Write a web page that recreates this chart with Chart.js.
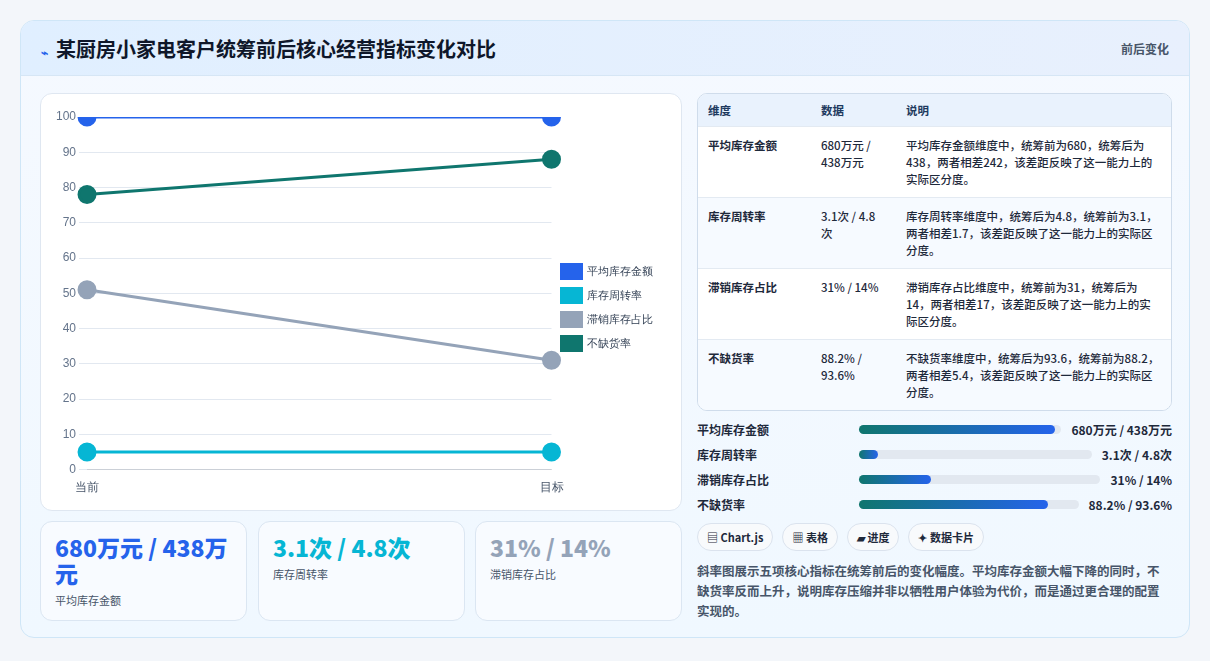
<!DOCTYPE html>
<html><head><meta charset="utf-8">
<script src="https://cdn.jsdelivr.net/npm/chart.js@4/dist/chart.umd.min.js"></script>
<style>
*{box-sizing:border-box;margin:0;padding:0}
body{width:1210px;height:661px;background:#f3f6fa;font-family:"Noto Sans CJK SC","Noto Sans",sans-serif;color:#1e293b;position:relative;overflow:hidden}
.card{position:absolute;left:20px;top:20px;width:1170px;height:618px;background:linear-gradient(#f5f9ff,#f0f8ff);border:1px solid #cfe6f7;border-radius:14px;overflow:hidden}
.head{height:55px;background:linear-gradient(90deg,#e0efff,#e8f0fd);border-bottom:1px solid #d6e6f5;display:flex;align-items:center;padding:0 20px;justify-content:space-between}
.head h1{font-size:20px;font-weight:700;color:#0f172a}
.head h1 span{color:#2563eb;font-size:12px;margin-right:8px}
.head .r{font-size:12px;color:#475569;font-weight:700}
.chartbox{position:absolute;left:19px;top:72px;width:642px;height:418px;background:#fff;border:1px solid #dfe7f1;border-radius:12px}
.stat{position:absolute;top:500px;width:207px;height:100px;background:#f8fbff;border:1px solid #dbe6f2;border-radius:12px;padding:12px 14px}
.stat b{display:block;font-size:23px;line-height:26px;font-weight:800}
.stat i{font-style:normal;font-size:11px;color:#475569;display:block;margin-top:6px}
table{position:absolute;left:676px;top:72px;width:475px;border-collapse:separate;border-spacing:0;border:1px solid #cfdceb;border-radius:10px;overflow:hidden;font-size:11.5px;background:#fff}
th{background:#e9f2fd;text-align:left;font-weight:700;color:#1e3a5f;padding:0 10px;height:32px}
td{vertical-align:top;padding:10px 10px 0;height:71px;border-top:1px solid #e3eaf2;line-height:17px;font-weight:500}
tr:nth-child(odd) td{background:#f6faff}
.bars{position:absolute;left:676px;top:396px;width:475px;font-size:12px;font-weight:700}
.bar{display:flex;align-items:center;height:25px}
.bar .l{width:150px}
.bar .t{flex:1;height:9px;background:#e2e8f0;border-radius:5px;margin:0 10px 0 12px}
.bar .f{height:9px;border-radius:5px;background:linear-gradient(90deg,#0f766e,#2563eb)}
.tags{position:absolute;left:676px;top:502px;display:flex;gap:9px}
.tags span{font-size:11px;font-weight:700;border:1px solid #dbe3ee;border-radius:14px;padding:5px 9px;background:#f8fafc}
.note{position:absolute;left:676px;top:540px;width:470px;font-size:12.5px;line-height:20px;color:#475569;font-weight:600}
</style></head><body>
<div class="card">
<div class="head"><h1><span>⌁</span>某厨房小家电客户统筹前后核心经营指标变化对比</h1><div class="r">前后变化</div></div>
<div class="chartbox"><canvas id="c" width="642" height="418"></canvas></div>
<div class="stat" style="left:19px"><b style="color:#2563eb">680万元 / 438万元</b><i>平均库存金额</i></div>
<div class="stat" style="left:237px"><b style="color:#06b6d4">3.1次 / 4.8次</b><i>库存周转率</i></div>
<div class="stat" style="left:454px"><b style="color:#94a3b8">31% / 14%</b><i>滞销库存占比</i></div>
<table id="tb"><tr><th style="width:113px">维度</th><th style="width:85px">数据</th><th>说明</th></tr></table>
<div class="bars" id="bars"></div>
<div class="tags"><span>▤ Chart.js</span><span>▦ 表格</span><span>▰ 进度</span><span>✦ 数据卡片</span></div>
<div class="note">斜率图展示五项核心指标在统筹前后的变化幅度。平均库存金额大幅下降的同时，不缺货率反而上升，说明库存压缩并非以牺牲用户体验为代价，而是通过更合理的配置实现的。</div>
</div>
<script>
// 数据
const labels = ["当前", "目标"];
const names = ["平均库存金额", "库存周转率", "滞销库存占比", "不缺货率"];
const colors = ["#2563eb", "#06b6d4", "#94a3b8", "#0f766e"];
const series = [[100, 100], [5, 5], [51, 31], [78, 88]];
const dataText = ["680万元 / 438万元", "3.1次 / 4.8次", "31% / 14%", "88.2% / 93.6%"];
const notes = [
  "平均库存金额维度中，统筹前为680，统筹后为438，两者相差242，该差距反映了这一能力上的实际区分度。",
  "库存周转率维度中，统筹后为4.8，统筹前为3.1，两者相差1.7，该差距反映了这一能力上的实际区分度。",
  "滞销库存占比维度中，统筹前为31，统筹后为14，两者相差17，该差距反映了这一能力上的实际区分度。",
  "不缺货率维度中，统筹后为93.6，统筹前为88.2，两者相差5.4，该差距反映了这一能力上的实际区分度。"
];
const barPct = [97, 8, 30, 86];

const tb = document.getElementById("tb");
for (let i = 0; i < names.length; i++) {
  const r = tb.insertRow(-1);
  r.insertCell(0).innerHTML = "<b>" + names[i] + "</b>";
  r.insertCell(1).innerHTML = dataText[i];
  r.insertCell(2).innerHTML = notes[i];
}
const bars = document.getElementById("bars");
for (let i = 0; i < names.length; i++) {
  bars.innerHTML += "<div class='bar'><div class='l'>" + names[i] + "</div><div class='t'><div class='f' style='width:" + barPct[i] + "%'></div></div><div>" + dataText[i] + "</div></div>";
}

new Chart(document.getElementById("c"), {
  type: "line",
  data: {
    labels: labels,
    datasets: names.map((n, i) => ({
      label: n, data: series[i], borderColor: colors[i], backgroundColor: colors[i],
      borderWidth: 3, pointRadius: 8, pointHoverRadius: 8
    }))
  },
  options: {
    responsive: false, animation: false,
    layout: { padding: { top: 23, left: 12, right: 20, bottom: 14 } },
    plugins: {
      legend: { position: "right", labels: { boxWidth: 20, boxHeight: 14, font: { size: 11 }, color: "#334155" } }
    },
    scales: {
      x: { grid: { display: false }, ticks: { color: "#475569", font: { size: 12 } } },
      y: { min: 0, max: 100, ticks: { stepSize: 10, color: "#64748b", font: { size: 12 } }, grid: { color: "#e2e8f0" }, border: { display: false } }
    }
  }
});
</script>
</body></html>
